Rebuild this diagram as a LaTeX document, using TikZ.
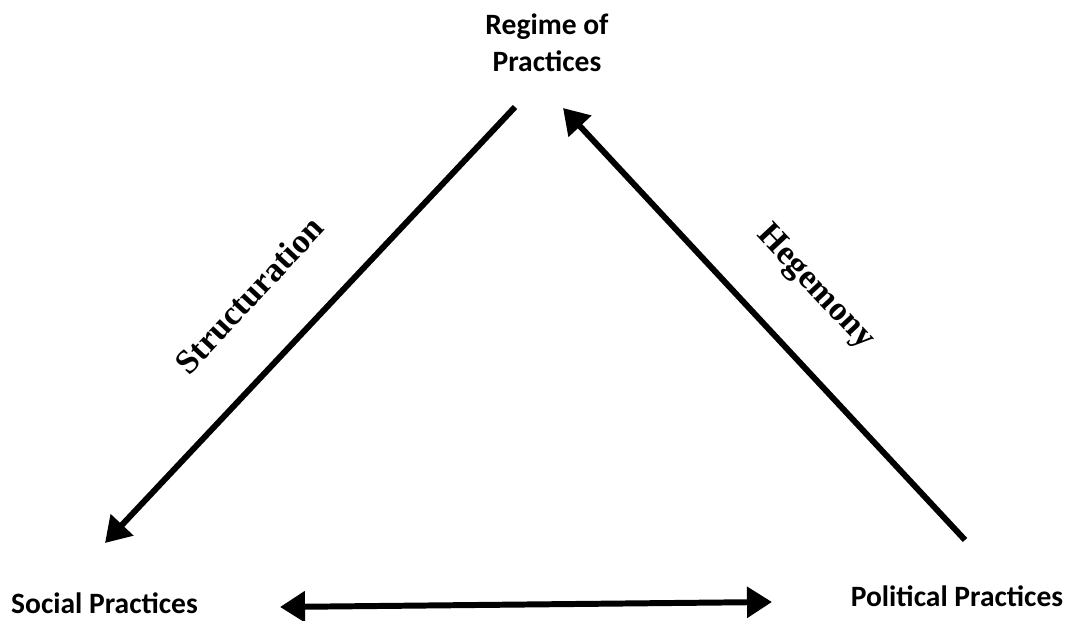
\documentclass[tikz,border=0pt]{standalone}
\usepackage{fontspec}
\setmainfont{Liberation Serif}
\newfontfamily\cornerfont{Carlito}
\usetikzlibrary{arrows.meta}
\tikzset{
  corner/.style={font=\cornerfont\bfseries\fontsize{16.8}{21}\selectfont,align=center,inner sep=0pt},
  relation/.style={font=\bfseries\fontsize{19.5}{22}\selectfont,inner sep=0pt},
  bigarrow/.style={line width=3.4pt,-{Triangle[length=0.5cm,width=0.6cm]}}
}
\begin{document}
\begin{tikzpicture}
            \useasboundingbox (0,0) rectangle (21.34,12.42);
            \node[corner] (regime) at (10.94,11.56) {Regime of\\Practices};
            \node[corner,anchor=base] (social) at (2.09,0.14) {Social Practices};
            \node[corner,anchor=base] (political) at (19.14,0.28) {Political Practices};
            \coordinate (regime-l) at (10.30,10.28);
            \coordinate (regime-r) at (11.26,10.26);
            \coordinate (social-t) at (2.10,1.56);
            \coordinate (social-r) at (5.60,0.28);
            \coordinate (political-t) at (19.30,1.62);
            \coordinate (political-l) at (15.44,0.38);
            \draw[bigarrow] (regime-l)--(social-t);
            \draw[bigarrow] (political-t)--(regime-r);
            \draw[bigarrow,{Triangle[length=0.5cm,width=0.6cm]}-{Triangle[length=0.5cm,width=0.6cm]}] (social-r)--(political-l);
            \node[relation,rotate=47] (structuration) at (4.98,6.52) {Structuration};
            \node[relation,rotate=-47] (hegemony) at (16.30,6.66) {Hegemony};
        \end{tikzpicture}
\end{document}
